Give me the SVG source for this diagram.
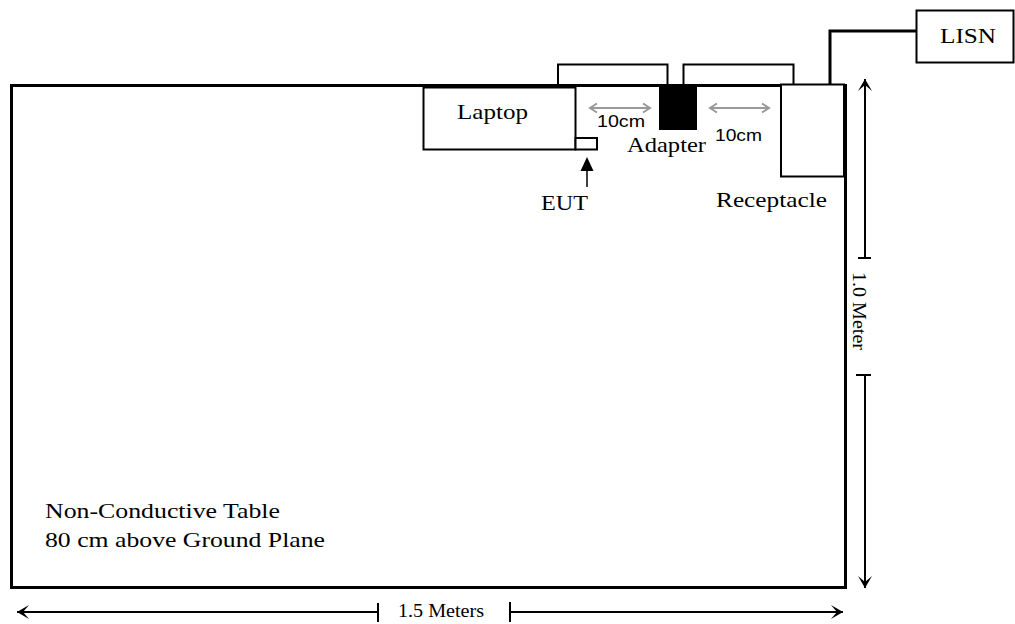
<svg xmlns="http://www.w3.org/2000/svg" width="1015" height="624" viewBox="0 0 1015 624">
<style>
.box{fill:#fff;stroke:#000;stroke-width:2}
.t{font-family:"Liberation Serif","Times New Roman",serif;font-size:22px;fill:#000}
.s{font-family:"Liberation Sans",Arial,sans-serif;font-size:17px;fill:#000}
.ln{fill:none;stroke:#000;stroke-width:2}
.gr{fill:none;stroke:#999;stroke-width:2}
</style>
<defs>
<marker id="barb" markerUnits="userSpaceOnUse" markerWidth="16" markerHeight="16" viewBox="-13 -8 16 16" refX="0" refY="0" orient="auto-start-reverse">
<path d="M0,0 L-12,-7 L-6,0 L-12,7 Z" fill="#000"/>
</marker>
<marker id="chev" markerUnits="userSpaceOnUse" markerWidth="12" markerHeight="12" viewBox="-9 -6 12 12" refX="0" refY="0" orient="auto-start-reverse">
<path d="M-7,-4.5 L0,0 L-7,4.5" fill="none" stroke="#999" stroke-width="2"/>
</marker>
</defs>
<rect width="1015" height="624" fill="#fff"/>
<g id="table">
<rect x="11.5" y="85.5" width="834" height="502" fill="#fff" stroke="#000" stroke-width="3"/>
<text class="t" x="45" y="518" textLength="235" lengthAdjust="spacingAndGlyphs">Non-Conductive Table</text>
<text class="t" x="45" y="547" textLength="280" lengthAdjust="spacingAndGlyphs">80 cm above Ground Plane</text>
</g>
<g id="connectors">
<path class="ln" d="M558,86 V64.5 H667.5 V86"/>
<path class="ln" d="M683.5,86 V64.5 H793.5 V86"/>
<path d="M916,31 H830 V85" fill="none" stroke="#000" stroke-width="3"/>
<line class="gr" x1="590" y1="108" x2="650" y2="108" marker-start="url(#chev)" marker-end="url(#chev)"/>
<line class="gr" x1="710" y1="108" x2="769" y2="108" marker-start="url(#chev)" marker-end="url(#chev)"/>
<path d="M587,157 L580.5,171 L593.5,171 Z" fill="#000"/>
<line x1="587" y1="170" x2="587" y2="187" stroke="#000" stroke-width="1.5"/>
<line class="ln" x1="865" y1="258" x2="865" y2="79" marker-end="url(#barb)"/>
<line class="ln" x1="858" y1="258" x2="871" y2="258"/>
<line class="ln" x1="865" y1="375" x2="865" y2="588" marker-end="url(#barb)"/>
<line class="ln" x1="856" y1="375" x2="871" y2="375"/>
<line class="ln" x1="378" y1="612" x2="17" y2="612" marker-end="url(#barb)"/>
<line class="ln" x1="378" y1="603" x2="378" y2="622"/>
<line class="ln" x1="510" y1="612" x2="843" y2="612" marker-end="url(#barb)"/>
<line class="ln" x1="510" y1="602" x2="510" y2="622"/>
</g>
<g id="laptop">
<rect class="box" x="423.5" y="87.5" width="152" height="62"/>
<text class="t" x="457" y="119" textLength="71" lengthAdjust="spacingAndGlyphs">Laptop</text>
</g>
<g id="eut">
<rect class="box" x="575.5" y="138" width="21.5" height="11.5"/>
<text class="t" x="541" y="210" textLength="47" lengthAdjust="spacingAndGlyphs">EUT</text>
</g>
<g id="adapter">
<rect x="659" y="84" width="38" height="46" fill="#000"/>
<text class="t" x="627" y="152" textLength="79" lengthAdjust="spacingAndGlyphs">Adapter</text>
</g>
<g id="receptacle">
<rect class="box" x="781" y="84.5" width="63" height="92"/>
<line x1="845.5" y1="84" x2="845.5" y2="178" stroke="#000" stroke-width="3"/>
<text class="t" x="716" y="207" textLength="111" lengthAdjust="spacingAndGlyphs">Receptacle</text>
</g>
<g id="lisn">
<rect class="box" x="916.5" y="10.5" width="97" height="52"/>
<text class="t" x="940" y="43" textLength="56" lengthAdjust="spacingAndGlyphs">LISN</text>
</g>
<g id="labels">
<text class="s" x="597" y="127" textLength="48" lengthAdjust="spacingAndGlyphs">10cm</text>
<text class="s" x="715" y="141" textLength="47" lengthAdjust="spacingAndGlyphs">10cm</text>
<text class="t" style="font-size:19px" x="398" y="617" textLength="86" lengthAdjust="spacingAndGlyphs">1.5 Meters</text>
<text class="t" style="font-size:19px" transform="translate(853,272) rotate(90)" x="0" y="0" textLength="78" lengthAdjust="spacingAndGlyphs">1.0 Meter</text>
</g>
</svg>
